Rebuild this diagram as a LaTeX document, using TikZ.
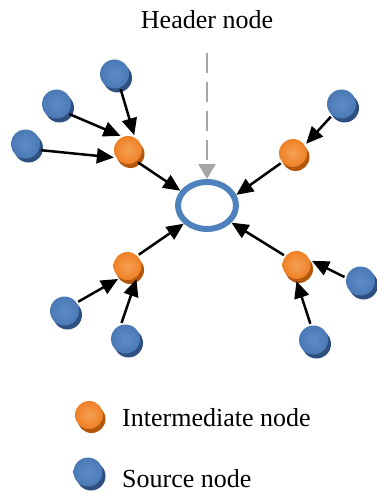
\documentclass[tikz,border=0pt]{standalone}
\usepackage{fontspec}
\setmainfont{Liberation Serif}
\usetikzlibrary{arrows.meta,shapes.geometric,shadows}

\definecolor{srcblue}{HTML}{4A79B6}
\definecolor{srclight}{HTML}{5D8DC8}
\definecolor{srcshadow}{HTML}{2E5080}
\definecolor{intorange}{HTML}{EE8025}
\definecolor{intlight}{HTML}{F6A054}
\definecolor{intshadow}{HTML}{B3560E}
\definecolor{hdrblue}{HTML}{4F81BD}
\definecolor{dashgray}{HTML}{A6A6A6}

\tikzset{
  src/.style={circle, minimum size=29pt, inner sep=0pt, outer sep=2pt,
    shading=radial, inner color=srclight, outer color=srcblue,
    drop shadow={shadow xshift=3pt, shadow yshift=-4pt, fill=srcshadow, opacity=1}},
  inter/.style={circle, minimum size=28pt, inner sep=0pt, outer sep=2pt,
    shading=radial, inner color=intlight, outer color=intorange,
    drop shadow={shadow xshift=2.5pt, shadow yshift=-4pt, fill=intshadow, opacity=1}},
  hub/.style={ellipse, draw=hdrblue, line width=6pt, minimum width=58pt, minimum height=47pt, inner sep=0pt},
  lbl/.style={font=\fontsize{26}{30}\selectfont, inner sep=0pt},
  arr/.style={-{Triangle[length=17pt,width=15pt]}, line width=2.5pt, black},
  hdrarr/.style={-{Triangle[length=15pt,width=17pt]}, line width=2.5pt, dashgray,
    dash pattern=on 20pt off 9pt},
}

\begin{document}
\begin{tikzpicture}[x=1pt, y=-1pt]
\useasboundingbox (0,0) rectangle (377,492);

% header node and its ring
\node[lbl, anchor=base] (hdr) at (207,29) {Header node};
\node[hub] (o) at (207,205.5) {};
\coordinate (dstart) at (207,53);

% intermediate nodes
\node[inter] (a) at (128,150) {};
\node[inter] (b) at (293,153) {};
\node[inter] (c) at (127.5,266) {};
\node[inter] (d) at (296.5,265) {};

% source nodes
\node[src] (s1) at (114.5,74) {};
\node[src] (s2) at (56.5,104) {};
\node[src] (s3) at (25.5,144) {};
\node[src] (s4) at (341.5,104) {};
\node[src] (s5) at (64.5,311) {};
\node[src] (s6) at (125.5,339) {};
\node[src] (s7) at (360.5,281) {};
\node[src] (s8) at (313.5,340) {};

% header link
\draw[hdrarr] (dstart) -- (o.north);

% sources to intermediates
\draw[arr] (s1.-68) -- (a.67);
\draw[arr] (s2.-38) -- (a.118);
\draw[arr] (s3.-22) -- (a.208);
\draw[arr] (s4.230) -- (b.35);
\draw[arr] (s5.34) -- (c.234);
\draw[arr] (s6.104) -- (c.304);
\draw[arr] (s7.166) -- (d.15);
\draw[arr] (s8.101) -- (d.270);

% intermediates to header
\draw[arr] (a.-51) -- (o.151);
\draw[arr] (b.220) -- (o.20);
\draw[arr] (c.45) -- (o.218);
\draw[arr] (d.142) -- (o.325);

% legend
\node[inter] (li) at (89,415) {};
\node[lbl, anchor=base west] (lit) at (122,426) {Intermediate node};
\node[src] (ls) at (88,472) {};
\node[lbl, anchor=base west] (lst) at (122,487) {Source node};
\end{tikzpicture}
\end{document}
